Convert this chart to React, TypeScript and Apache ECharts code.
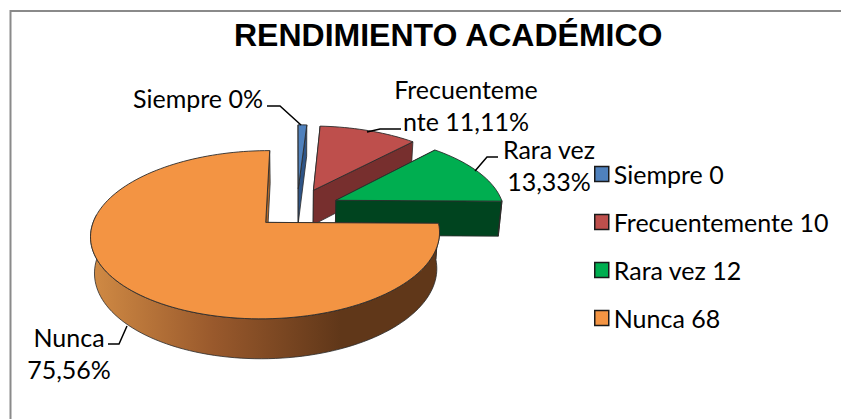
import React, { useEffect, useRef } from "react";
import * as echarts from "echarts";

const categories = ["Siempre", "Frecuentemente", "Rara vez", "Nunca"];
const values = [0, 10, 12, 68];
const percentLabels = ["0%", "11,11%", "13,33%", "75,56%"];
const topColors = ["#4F81BD", "#BE4F4C", "#00AE50", "#F39443"];
const wallColors = ["#2E5486", "#772F2E", "#00441F", "#B36A2A"];
const titleText = "RENDIMIENTO ACADÉMICO";

// Projection of the tilted pie (unit radius disc seen in perspective)
const CX = 297;
const CY = 208;
const F = 1177;
const A = 547;
const D = 7;
const EXPLODE = 0.255;
const DEPTH = 252;
const BOTTOM_SHIFT = 0.13;
const SLIVER_DEG = 3.5; // a zero slice is still drawn as a thin blade

const total = values.reduce((a, b) => a + b, 0);
const spans = values.map((v) => (v === 0 ? SLIVER_DEG : (v / total) * (360 - SLIVER_DEG)));
const starts = spans.map((_, i) => spans.slice(0, i).reduce((a, b) => a + b, 0));

const rad = (d: number) => (d * Math.PI) / 180;

function project(x: number, z: number, bottom: boolean): number[] {
  const den = D + z + (bottom ? BOTTOM_SHIFT : 0);
  return [CX + (F * x) / den, CY - (A * z) / den + (bottom ? DEPTH / den : 0)];
}

function slicePoints(i: number) {
  const a0 = starts[i];
  const a1 = a0 + spans[i];
  const mid = rad((a0 + a1) / 2);
  const ox = EXPLODE * Math.sin(mid);
  const oz = EXPLODE * Math.cos(mid);
  const rim = (deg: number, bottom: boolean) =>
    project(ox + Math.sin(rad(deg)), oz + Math.cos(rad(deg)), bottom);
  const apex = (bottom: boolean) => project(ox, oz, bottom);
  const arc = (from: number, to: number, bottom: boolean) => {
    const n = Math.max(2, Math.ceil(Math.abs(to - from) / 2));
    const out: number[][] = [];
    for (let k = 0; k <= n; k++) out.push(rim(from + ((to - from) * k) / n, bottom));
    return out;
  };
  return { a0, a1, rim, apex, arc };
}

const edge = "#2b2b2b";

function renderSlice(i: number) {
  const { a0, a1, rim, apex, arc } = slicePoints(i);
  const children: any[] = [];
  const wall = (deg: number) => ({
    type: "polygon",
    shape: { points: [apex(false), rim(deg, false), rim(deg, true), apex(true)] },
    style: { fill: wallColors[i], stroke: edge, lineWidth: 0.8 },
  });
  children.push(wall(a0));
  children.push(wall(a1));
  const from = Math.max(a0, 90);
  const to = Math.min(a1, 275);
  if (to > from) {
    const top = arc(from, to, false);
    const bot = arc(to, from, true);
    children.push({
      type: "polygon",
      shape: { points: top.concat(bot) },
      style: {
        fill: new echarts.graphic.LinearGradient(
          93,
          0,
          437,
          0,
          [
            { offset: 0, color: "#D08A44" },
            { offset: 0.35, color: "#99592C" },
            { offset: 0.72, color: "#603719" },
            { offset: 1, color: "#603719" },
          ],
          true
        ),
        stroke: edge,
        lineWidth: 0.8,
      },
    });
  }
  children.push({
    type: "polygon",
    shape: { points: [apex(false), ...arc(a0, a1, false)] },
    style: { fill: topColors[i], stroke: edge, lineWidth: 0.9 },
  });
  return { type: "group", children };
}

const labelFont = { fontFamily: "Lato", fontSize: 25, fill: "#000" };

export default function App() {
  const ref = useRef<HTMLDivElement>(null);
  useEffect(() => {
    const chart = echarts.init(ref.current!, null, { renderer: "svg" });
    const text = (content: string, x: number, y: number, align: string) => ({
      type: "text",
      z: 10,
      style: {
        ...labelFont,
        text: content,
        x,
        y,
        align,
        verticalAlign: "middle",
        lineHeight: 32,
      },
    });
    const leader = (points: number[][]) => ({
      type: "polyline",
      z: 10,
      shape: { points },
      style: { stroke: "#000", lineWidth: 1.5, fill: "none" },
    });
    const option: any = {
      animation: false,
      backgroundColor: "#fff",
      title: {
        text: titleText,
        left: 229,
        top: 14,
        textStyle: { fontFamily: "Liberation Sans", fontWeight: "bold", fontSize: 32, color: "#000" },
      },
      legend: {
        orient: "vertical",
        left: 589,
        top: 155,
        icon: "rect",
        itemWidth: 14,
        itemHeight: 15,
        itemGap: 20,
        selectedMode: false,
        itemStyle: { borderColor: "#1a1a1a", borderWidth: 1.5 },
        textStyle: { fontFamily: "Lato", fontSize: 25, color: "#000", lineHeight: 28, padding: [0, 0, 0, 0] },
        data: categories.map((c, i) => `${c} ${values[i]}`),
      },
      graphic: {
        elements: [
          {
            type: "rect",
            z: -1,
            shape: { x: 10.5, y: 11, width: 860, height: 440 },
            style: { fill: "none", stroke: "#8a8a8a", lineWidth: 2 },
          },
          text(`${categories[0]} ${percentLabels[0]}`, 133, 98, "left"),
          text(`Frecuenteme\nnte ${percentLabels[1]}`, 466, 105, "center"),
          text(`${categories[2]}\n${percentLabels[2]}`, 549, 165, "center"),
          text(`${categories[3]}\n${percentLabels[3]}`, 69, 353, "center"),
          leader([[267, 106], [280, 106], [301, 125]]),
          leader([[401, 129], [380, 129], [367, 132]]),
          leader([[498, 157], [487, 157], [475, 171]]),
          leader([[108, 344], [119, 344], [127, 326]]),
        ],
      },
      series: categories.map((c, i) => ({
        type: "custom",
        name: `${c} ${values[i]}`,
        coordinateSystem: "none",
        silent: true,
        itemStyle: { color: topColors[i] },
        data: [[values[i]]],
        renderItem: () => renderSlice(i),
      })),
    };
    chart.setOption(option);
    return () => chart.dispose();
  }, []);
  return <div ref={ref} style={{ position: "fixed", left: 0, top: 0, width: 841, height: 419 }} />;
}
